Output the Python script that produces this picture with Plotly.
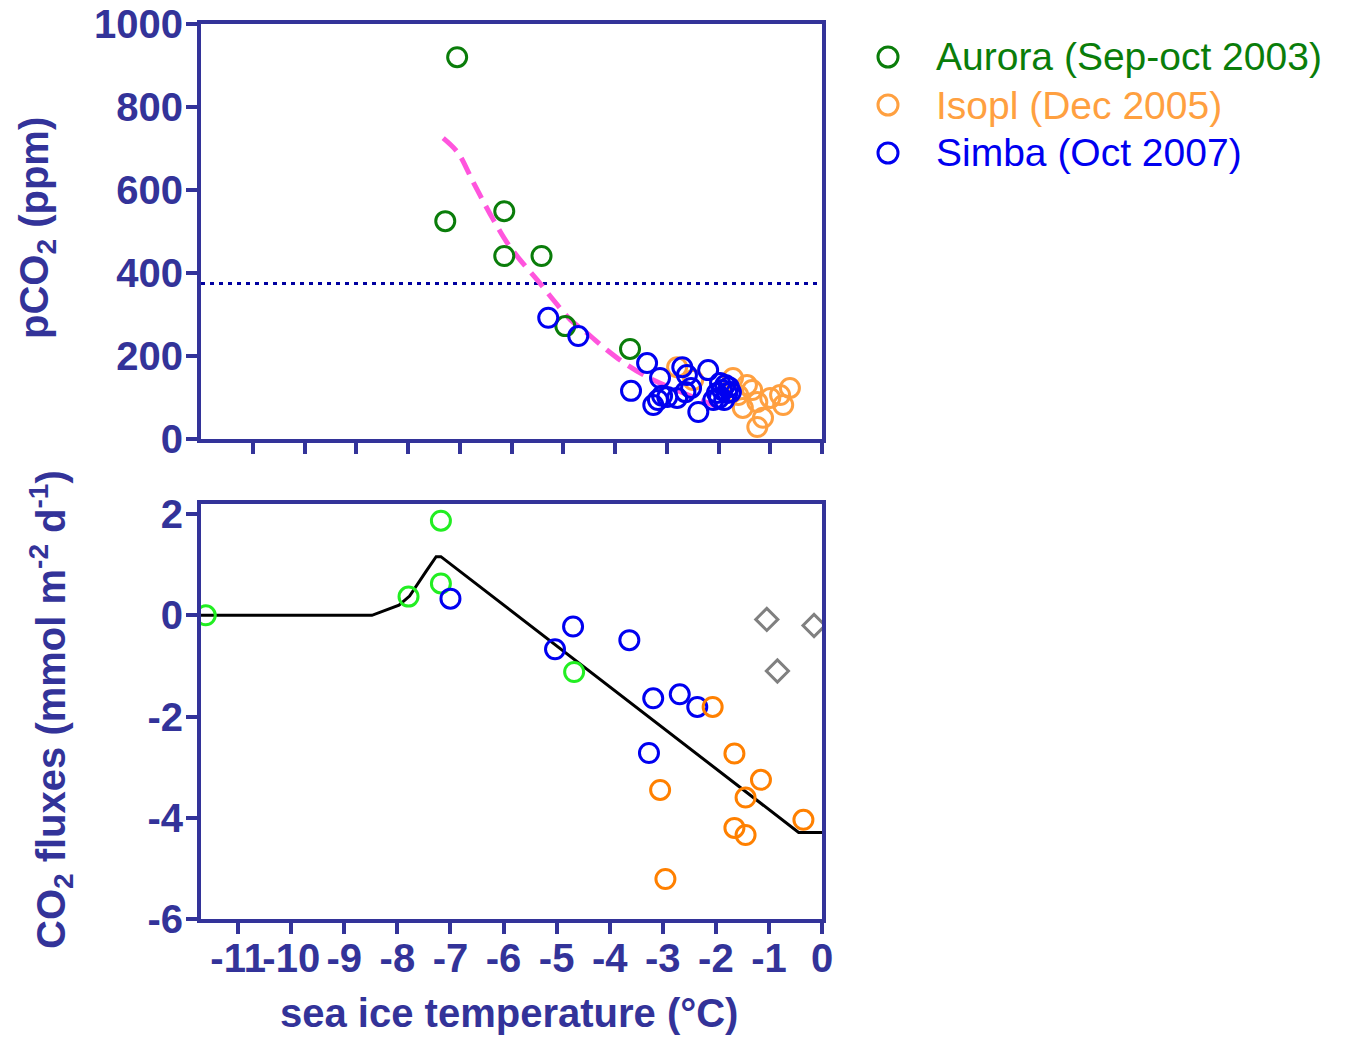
import plotly.graph_objects as go

# ---------------- data ----------------
# Top panel: pCO2 (ppm) vs sea ice temperature (°C)
aurora_top_x = [-7.05, -7.28, -6.14, -6.14, -5.42, -4.96, -3.71]
aurora_top_y = [920, 525, 549, 441, 441, 272, 217]

isopl_top_x = [-2.80, -2.49, -1.72, -1.45, -1.62, -1.53, -1.25, -1.14, -1.25, -1.00, -0.81, -0.75, -0.62, -1.35]
isopl_top_y = [173, 142, 147, 130, 106, 75, 89, 51, 29, 99, 106, 82, 123, 118]

simba_top_x = [-5.29, -4.71, -3.69, -3.38, -3.13, -3.26, -3.17, -3.09, -2.99, -2.80, -2.70, -2.61, -2.64,
               -2.53, -2.39, -2.20, -2.10, -2.03, -1.97, -1.93, -1.87, -1.83, -1.80, -1.76, -1.99, -1.89]
simba_top_y = [292, 248, 116, 183, 147, 82, 94, 104, 101, 99, 173, 154, 113,
               123, 65, 166, 94, 111, 135, 118, 130, 111, 125, 113, 99, 94]

fit_x = [-7.32, -7.03, -6.76, -6.56, -6.35, -6.08, -5.83, -5.50, -5.19, -4.86, -4.54, -4.15, -3.76, -3.26, -2.68, -1.87]
fit_y = [725, 689, 624, 576, 528, 472, 431, 383, 335, 287, 255, 214, 178, 142, 111, 70]

atm_x = [-12, 0]
atm_y = [375, 375]

# Bottom panel: CO2 fluxes (mmol m-2 d-1)
aurora_bot_x = [-11.61, -7.79, -7.18, -7.18, -4.67]
aurora_bot_y = [0.0, 0.37, 1.87, 0.63, -1.12]

simba_bot_x = [-7.00, -5.03, -4.69, -3.63, -3.18, -2.68, -2.35, -3.26]
simba_bot_y = [0.33, -0.67, -0.22, -0.49, -1.64, -1.56, -1.81, -2.72]

isopl_bot_x = [-2.06, -1.65, -1.15, -1.44, -3.05, -1.65, -1.44, -0.35, -2.95]
isopl_bot_y = [-1.81, -2.73, -3.25, -3.60, -3.45, -4.20, -4.34, -4.04, -5.21]

other_bot_x = [-1.04, -0.15, -0.84]
other_bot_y = [-0.08, -0.20, -1.10]

model_x = [-11.7, -8.48, -7.97, -7.77, -7.46, -7.27, -7.18, -0.44, 0.0]
model_y = [0.0, 0.0, 0.20, 0.38, 0.87, 1.16, 1.16, -4.29, -4.29]

x_tickvals = [-11, -10, -9, -8, -7, -6, -5, -4, -3, -2, -1, 0]
x_ticktext = ["-11", "-10", "-9", "-8", "-7", "-6", "-5", "-4", "-3", "-2", "-1", "0"]
top_y_tickvals = [0, 200, 400, 600, 800, 1000]
top_y_ticktext = ["0", "200", "400", "600", "800", "1000"]
bot_y_tickvals = [-6, -4, -2, 0, 2]
bot_y_ticktext = ["-6", "-4", "-2", "0", "2"]

legend_names = ["Aurora (Sep-oct 2003)", "Isopl (Dec 2005)", "Simba (Oct 2007)"]
legend_colors = ["#0A7D0A", "#FFA040", "#0000F0"]

# ---------------- styling ----------------
W, H = 1347, 1037
OFF = 8  # page body margin offset
AX = "#333399"
FONT = "Liberation Sans, Arial, sans-serif"

def px_x(p):
    return (p - OFF) / W

def px_y(p):
    return (H - (p - OFF)) / H

fig = go.Figure()

mk = dict(size=19, line=dict(width=3))

# top panel traces
fig.add_trace(go.Scatter(x=atm_x, y=atm_y, mode="lines", xaxis="x", yaxis="y",
                         line=dict(color="#0000A0", width=3, dash="4px,5px"), showlegend=False))
fig.add_trace(go.Scatter(x=fit_x, y=fit_y, mode="lines", xaxis="x", yaxis="y",
                         line=dict(color="#FF55DD", width=5, dash="18px,9px", shape="spline"), showlegend=False))
fig.add_trace(go.Scatter(x=aurora_top_x, y=aurora_top_y, mode="markers", name=legend_names[0],
                         xaxis="x", yaxis="y", showlegend=False,
                         marker=dict(symbol="circle-open", color="#0A7D0A", **mk)))
fig.add_trace(go.Scatter(x=isopl_top_x, y=isopl_top_y, mode="markers", name=legend_names[1],
                         xaxis="x", yaxis="y", showlegend=False,
                         marker=dict(symbol="circle-open", color="#FFA040", **mk)))
fig.add_trace(go.Scatter(x=simba_top_x, y=simba_top_y, mode="markers", name=legend_names[2],
                         xaxis="x", yaxis="y", showlegend=False,
                         marker=dict(symbol="circle-open", color="#0000F0", **mk)))

# bottom panel traces
fig.add_trace(go.Scatter(x=model_x, y=model_y, mode="lines", xaxis="x2", yaxis="y2",
                         line=dict(color="black", width=3), showlegend=False))
fig.add_trace(go.Scatter(x=aurora_bot_x, y=aurora_bot_y, mode="markers", xaxis="x2", yaxis="y2",
                         showlegend=False, marker=dict(symbol="circle-open", color="#22EE22", **mk)))
fig.add_trace(go.Scatter(x=simba_bot_x, y=simba_bot_y, mode="markers", xaxis="x2", yaxis="y2",
                         showlegend=False, marker=dict(symbol="circle-open", color="#0000F0", **mk)))
fig.add_trace(go.Scatter(x=isopl_bot_x, y=isopl_bot_y, mode="markers", xaxis="x2", yaxis="y2",
                         showlegend=False, marker=dict(symbol="circle-open", color="#FF8000", **mk)))
fig.add_trace(go.Scatter(x=other_bot_x, y=other_bot_y, mode="markers", xaxis="x2", yaxis="y2",
                         showlegend=False,
                         marker=dict(symbol="diamond-open", color="#808080", size=17, line=dict(width=3))))

tickfont = dict(family=FONT, size=40, color=AX, weight="bold")
common = dict(showline=True, linecolor=AX, linewidth=4, mirror=True, ticks="outside",
              tickcolor=AX, tickwidth=4, showgrid=False, zeroline=False, tickfont=tickfont,
              automargin=False, tickangle=0)

xdom = [px_x(201), px_x(822)]
fig.update_layout(
    width=W, height=H,
    margin=dict(l=0, r=0, t=0, b=0, pad=0),
    paper_bgcolor="white", plot_bgcolor="white",
    showlegend=False,
    xaxis=dict(domain=xdom, range=[-12, 0], anchor="y", tickvals=x_tickvals,
               showticklabels=False, ticklen=11, **common),
    yaxis=dict(domain=[px_y(439), px_y(24)], range=[0, 1000], anchor="x",
               tickvals=top_y_tickvals, ticktext=top_y_ticktext, ticklen=11,
               ticklabelstandoff=-5, **common),
    xaxis2=dict(domain=xdom, range=[-11.7, 0], anchor="y2", tickvals=x_tickvals,
                ticktext=x_ticktext, ticklen=11, ticklabelstandoff=-10, **common),
    yaxis2=dict(domain=[px_y(919), px_y(504)], range=[-6, 2.2], anchor="x2",
                tickvals=bot_y_tickvals, ticktext=bot_y_ticktext, ticklen=11,
                ticklabelstandoff=-5, **common),
)

titlefont = dict(family=FONT, size=40, color=AX, weight="bold")
annotations = [
    dict(text="sea ice temperature (°C)", x=px_x(509), y=px_y(1013), xref="paper", yref="paper",
         showarrow=False, xanchor="center", yanchor="middle", font=titlefont),
    dict(text="pCO<sub>2</sub> (ppm)", x=px_x(37), y=px_y(228), xref="paper", yref="paper",
         showarrow=False, xanchor="center", yanchor="middle", textangle=-90, font=titlefont),
    dict(text="CO<sub>2</sub> fluxes (mmol m<sup>-2</sup> d<sup>-1</sup>)", x=px_x(51), y=px_y(710),
         xref="paper", yref="paper", showarrow=False, xanchor="center", yanchor="middle",
         textangle=-90, font=titlefont),
]

# manual legend
shapes = []
leg_rows = [57, 105, 153]
for name, col, yy in zip(legend_names, legend_colors, leg_rows):
    annotations.append(dict(text=name, x=px_x(934), y=px_y(yy), xref="paper", yref="paper",
                            showarrow=False, xanchor="left", yanchor="middle",
                            font=dict(family=FONT, size=39, color=col)))
    shapes.append(dict(type="circle", xref="paper", yref="paper",
                       x0=px_x(878), x1=px_x(898), y0=px_y(yy + 10), y1=px_y(yy - 10),
                       line=dict(color=col, width=3)))

fig.update_layout(annotations=annotations, shapes=shapes)

fig.write_html("out.html")
